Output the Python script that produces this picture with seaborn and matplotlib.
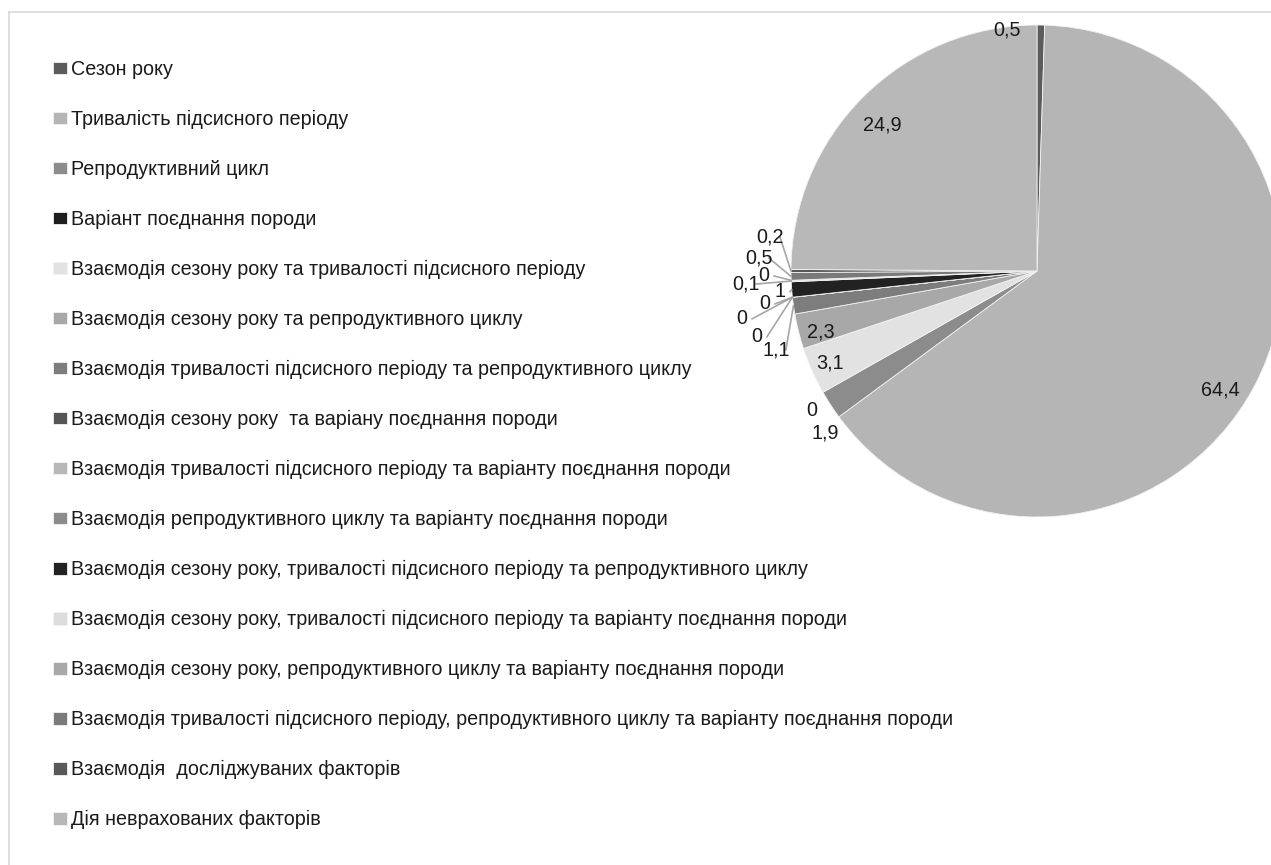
import numpy as np
import matplotlib
matplotlib.use("Agg")
import matplotlib.pyplot as plt
import seaborn as sns

categories = [
    "Сезон року",
    "Тривалість підсисного періоду",
    "Репродуктивний цикл",
    "Варіант поєднання породи",
    "Взаємодія сезону року та тривалості підсисного періоду",
    "Взаємодія сезону року та репродуктивного циклу",
    "Взаємодія тривалості підсисного періоду та репродуктивного циклу",
    "Взаємодія сезону року  та варіану поєднання породи",
    "Взаємодія тривалості підсисного періоду та варіанту поєднання породи",
    "Взаємодія репродуктивного циклу та варіанту поєднання породи",
    "Взаємодія сезону року, тривалості підсисного періоду та репродуктивного циклу",
    "Взаємодія сезону року, тривалості підсисного періоду та варіанту поєднання породи",
    "Взаємодія сезону року, репродуктивного циклу та варіанту поєднання породи",
    "Взаємодія тривалості підсисного періоду, репродуктивного циклу та варіанту поєднання породи",
    "Взаємодія  досліджуваних факторів",
    "Дія неврахованих факторів",
]
shares = [0.5, 64.4, 1.9, 0, 3.1, 2.3, 1.1, 0, 0, 0, 1, 0.1, 0, 0.5, 0.2, 24.9]
value_labels = ["0,5", "64,4", "1,9", "0", "3,1", "2,3", "1,1", "0", "0", "0",
                "1", "0,1", "0", "0,5", "0,2", "24,9"]

# style
sns.set_theme(style="white")
plt.rcParams["font.family"] = ["Liberation Sans", "DejaVu Sans"]

colors = ["#5c5c5c", "#b5b5b5", "#8c8c8c", "#1e1e1e", "#e2e2e2", "#a8a8a8",
          "#7d7d7d", "#555555", "#b8b8b8", "#8c8c8c", "#222222", "#dcdcdc",
          "#a8a8a8", "#7a7a7a", "#585858", "#b8b8b8"]

# label placement (relative to pie centre, in radius units)
label_pos = [(-0.122, 0.980), (0.744, -0.484), (-0.862, -0.659), (-0.915, -0.569),
             (-0.841, -0.374), (-0.878, -0.248), (-1.061, -0.321), (-1.138, -0.268),
             (-1.199, -0.195), (-1.106, -0.134), (-1.045, -0.085), (-1.183, -0.053),
             (-1.110, -0.020), (-1.130, 0.053), (-1.085, 0.138), (-0.630, 0.593)]

W, H = 1271, 865
fig = plt.figure(figsize=(W / 100, H / 100), dpi=100)
fig.patch.set_facecolor("white")

# outer frame lines (top and left visible)
fig.add_artist(plt.Line2D([9 / W, 9 / W], [0, 1 - 12 / H], transform=fig.transFigure,
                          color="#d9d9d9", lw=1.2))
fig.add_artist(plt.Line2D([9 / W, 1], [1 - 12 / H, 1 - 12 / H], transform=fig.transFigure,
                          color="#d9d9d9", lw=1.2))

cx, cy, R = 1037, 271, 246
ax = fig.add_axes([(cx - R) / W, 1 - (cy + R) / H, 2 * R / W, 2 * R / H])

wedges, _ = ax.pie(shares, colors=colors, startangle=90, counterclock=False,
                   radius=1.0, wedgeprops=dict(edgecolor="#f2f2f2", linewidth=0.6))
ax.set_xlim(-1, 1)
ax.set_ylim(-1, 1)
ax.set_aspect("equal")
ax.axis("off")
for w in wedges:
    w.set_clip_on(False)

for w, txt, (lx, ly) in zip(wedges, value_labels, label_pos):
    mid = np.deg2rad((w.theta1 + w.theta2) / 2)
    if lx < -1.0:
        ex, ey = np.cos(mid) * 1.0, np.sin(mid) * 1.0
        ax.plot([lx + 0.04, ex], [ly, ey], color="#a6a6a6", lw=1.2, clip_on=False,
                zorder=3)
    ax.text(lx, ly, txt, ha="center", va="center", fontsize=14.2, color="#1a1a1a",
            clip_on=False, zorder=4)

leg = fig.legend(wedges, categories, loc="upper left",
                 bbox_to_anchor=(53 / W, 1 - 60 / H), frameon=False,
                 fontsize=14.2, handlelength=0.7, handleheight=0.6,
                 handletextpad=0.2, labelspacing=1.57, borderaxespad=0,
                 borderpad=0)
for t in leg.get_texts():
    t.set_color("#1a1a1a")

fig.savefig("out.png", dpi=100, facecolor="white")
